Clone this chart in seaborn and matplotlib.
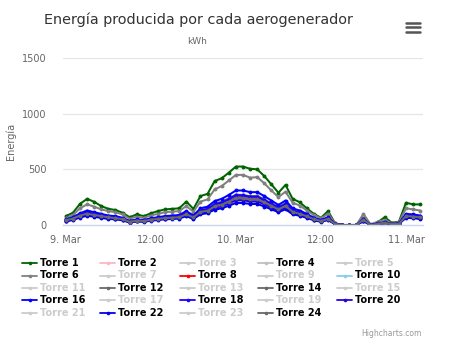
import matplotlib
matplotlib.use("Agg")
import matplotlib.pyplot as plt
import seaborn as sns
import numpy as np
import pandas as pd
from matplotlib.lines import Line2D

hours = list(range(51))
tick_pos = [0, 12, 24, 36, 48]
tick_labels = ["9. Mar", "12:00", "10. Mar", "12:00", "11. Mar"]
y_ticks = [0, 500, 1000, 1500]

torre_names = [f"Torre {i}" for i in range(1, 25)]
torre_colors = ["#006400", "#FFB6C1", "#cccccc", "#C0C0C0", "#cccccc", "#808080",
                "#cccccc", "#FF0000", "#cccccc", "#87CEEB", "#cccccc", "#696969",
                "#cccccc", "#696969", "#cccccc", "#0000FF", "#cccccc", "#1a00ff",
                "#cccccc", "#2a00e0", "#cccccc", "#0000ee", "#cccccc", "#696969"]
visible = [1, 2, 4, 6, 8, 10, 12, 14, 16, 18, 20, 22, 24]

t1 = [80,110,190,235,208,170,145,135,110,70,95,80,105,125,140,145,150,210,145,260,280,395,420,470,525,525,505,500,440,365,290,360,235,205,150,100,65,125,15,0,0,0,35,0,25,70,20,30,200,185,185]
t2 = [40,56,84,104,92,80,68,64,52,28,40,36,48,56,64,68,72,100,68,120,132,172,188,216,248,248,236,236,208,176,144,176,120,104,80,52,36,56,8,0,0,0,44,0,12,20,8,12,80,76,68]
t4 = [35,49,74,91,80,70,60,56,46,25,35,32,42,49,56,60,63,88,60,105,116,150,165,189,217,217,207,207,182,154,126,154,105,91,70,46,32,49,7,0,0,0,38,0,10,18,7,10,70,66,60]
t6 = [60,90,150,185,165,140,125,115,95,55,75,65,85,100,115,120,125,170,120,210,230,320,350,400,450,450,425,430,375,310,250,300,200,175,130,90,60,100,15,0,0,0,100,5,30,45,15,25,150,140,130]
t8 = [38,54,82,100,90,78,66,62,50,27,39,35,47,54,62,66,70,97,66,117,128,168,183,211,242,242,230,230,203,172,140,172,117,101,78,51,35,55,8,0,0,0,43,0,11,19,8,11,78,74,66]
t10 = [36,51,77,95,84,73,62,58,47,26,36,33,44,51,58,62,66,91,62,110,120,157,172,197,226,226,215,215,190,160,131,160,110,95,73,47,33,51,7,0,0,0,40,0,11,18,7,11,73,69,62]
t12 = [48,66,98,118,104,92,78,73,60,34,47,42,55,65,73,78,82,112,80,136,148,192,210,240,272,270,258,262,230,195,160,196,133,115,88,58,42,64,10,0,0,0,60,2,14,24,10,14,92,86,80]
t14 = [44,60,88,108,96,84,72,66,54,30,42,38,50,58,66,70,74,102,72,124,136,178,192,222,254,254,242,244,214,182,148,182,124,106,82,54,38,58,8,0,0,0,50,0,12,20,8,12,85,80,72]
t16 = [50,70,105,130,115,100,85,80,65,35,50,45,60,70,80,85,90,125,85,150,165,215,235,270,310,310,295,295,260,220,180,220,150,130,100,65,45,70,10,0,0,0,55,0,15,25,10,15,100,95,85]
t18 = [45,62,92,112,100,88,74,70,57,32,44,40,52,62,70,74,78,108,75,130,142,185,202,232,268,266,254,255,224,190,155,190,130,112,86,56,40,60,8,0,0,0,45,0,12,22,8,12,88,82,75]
t20 = [36,50,76,94,83,72,61,58,47,25,36,32,43,50,58,61,65,90,61,108,119,155,169,194,223,223,212,212,187,158,130,158,108,94,72,47,32,50,7,0,0,0,40,0,11,18,7,11,72,68,61]
t22 = [32,45,67,83,74,64,54,51,42,22,32,29,38,45,51,54,58,80,54,96,106,138,150,173,198,198,189,189,166,141,115,141,96,83,64,42,29,45,6,0,0,0,35,0,10,16,6,10,64,61,54]
t24 = [42,58,84,102,90,80,68,62,52,28,40,36,48,55,62,66,70,96,68,118,128,168,182,210,242,242,230,232,204,172,140,172,118,100,78,52,36,55,8,0,0,0,48,0,10,20,8,10,80,76,68]

series = {1: t1, 2: t2, 4: t4, 6: t6, 8: t8, 10: t10, 12: t12, 14: t14,
          16: t16, 18: t18, 20: t20, 22: t22, 24: t24}

sns.set_theme(style="white")
plt.rcParams['font.family'] = ['DejaVu Sans']

fig = plt.figure(figsize=(4.5, 3.44), dpi=100)
ax = fig.add_axes([63/450, 1-225/344, 360/450, 167/344])

for k in visible:
    sns.lineplot(x=hours, y=series[k], color=torre_colors[k-1], marker='o',
                 markersize=2.8, markeredgewidth=0, linewidth=1.45, ax=ax)

ax.set_xlim(-0.4, 50.4)
ax.set_ylim(0, 1500)
ax.set_yticks(y_ticks)
ax.set_yticklabels([str(v) for v in y_ticks], color="#666666", fontsize=7)
ax.set_xticks(tick_pos)
ax.set_xticklabels(tick_labels, color="#666666", fontsize=7)
for v in y_ticks[1:]:
    ax.axhline(v, color="#e6e6e6", linewidth=0.9, zorder=0)
for s in ["top", "right", "left"]:
    ax.spines[s].set_visible(False)
ax.spines["bottom"].set_color("#ccd6eb")
ax.spines["bottom"].set_linewidth(1)
ax.tick_params(axis='y', length=0, pad=12)
ax.tick_params(axis='x', length=5, color="#ccd6eb", width=1, direction='out', pad=2)
ax.set_ylabel("Energía", color="#666666", fontsize=7)
ax.yaxis.set_label_coords(-0.13, 0.5)
ax.set_xlabel("")

fig.text(198/450, 1-20/344, "Energía producida por cada aerogenerador",
         ha='center', va='center', fontsize=10.4, color="#333333")
fig.text(197/450, 1-42/344, "kWh", ha='center', va='center', fontsize=6.5, color="#666666")

# menu icon
for yy in [22.5, 27, 31.5]:
    fig.add_artist(Line2D([406/450, 420/450], [1-yy/344, 1-yy/344], color="#555555",
                          linewidth=1.8, transform=fig.transFigure))

# legend
col_x = [22, 100, 180, 258, 337]
row_y = [263, 275.5, 288, 300.3, 312.7]
for i, name in enumerate(torre_names):
    r, c = divmod(i, 5)
    x0 = col_x[c]
    y0 = 1 - row_y[r]/344
    is_vis = (i+1) in visible
    col = torre_colors[i] if is_vis else "#cccccc"
    fig.add_artist(Line2D([x0/450, (x0+15)/450], [y0, y0], color=col, linewidth=1.3,
                          transform=fig.transFigure))
    fig.add_artist(Line2D([(x0+7.5)/450], [y0], color=col, marker='o', markersize=2.6,
                          markeredgewidth=0, transform=fig.transFigure))
    fig.text((x0+18)/450, y0, name, ha='left', va='center', fontsize=7, fontweight='bold',
             color="#000000" if is_vis else "#cccccc")

fig.text(422/450, 1-333/344, "Highcharts.com", ha='right', va='center', fontsize=5.5,
         color="#999999")

fig.savefig("out.png", dpi=100)
